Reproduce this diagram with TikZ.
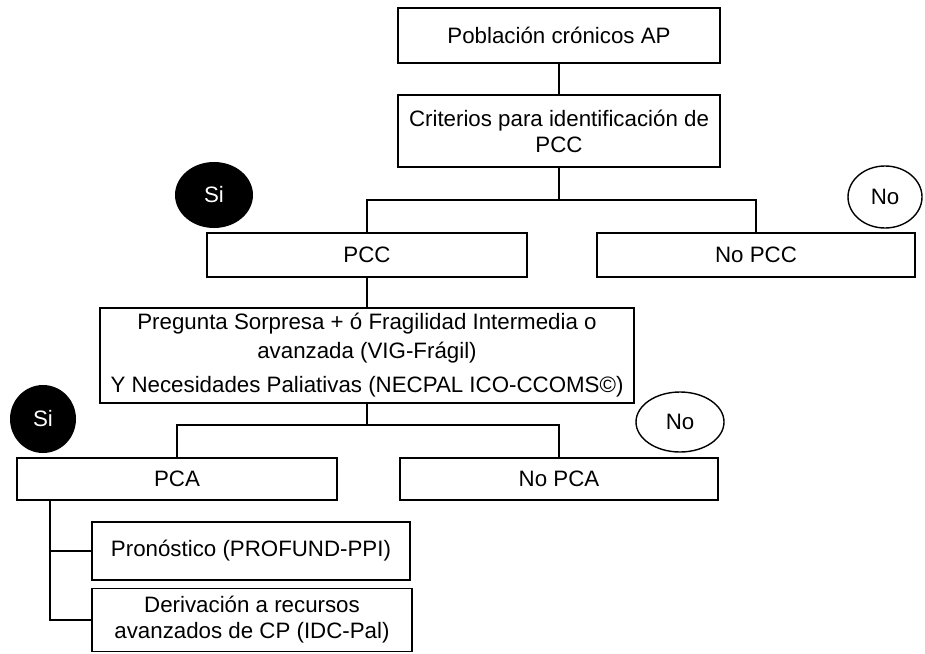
\documentclass[tikz,border=0pt]{standalone}
\usepackage{fontspec}
\setmainfont{Liberation Sans}
\usetikzlibrary{shapes.geometric}
\begin{document}
\begin{tikzpicture}[x=1pt,y=-1pt,
  box/.style={draw=black,line width=1.8pt,rectangle,inner sep=0pt,align=center,
    font=\fontsize{22.3}{26}\selectfont},
  oval/.style={ellipse,inner sep=0pt,font=\fontsize{22.3}{26}\selectfont},
  conn/.style={line width=1.8pt}]
\useasboundingbox (0,0) rectangle (925,653);
\node[box,minimum width=322pt,minimum height=55pt] (b1) at (559,35.5) {Población crónicos AP};
\node[box,minimum width=322pt,minimum height=72pt] (b2) at (559,131) {Criterios para identificación de\\PCC};
\node[box,minimum width=320pt,minimum height=44pt] (pcc) at (367,255) {PCC};
\node[box,minimum width=318pt,minimum height=44pt] (nopcc) at (756,255) {No PCC};
\node[box,minimum width=534pt,minimum height=95pt,font=\fontsize{22.3}{29}\selectfont] (big) at (367,355.5)
  {Pregunta Sorpresa + ó Fragilidad Intermedia o\\avanzada (VIG-Frágil)\\[5pt]Y Necesidades Paliativas (NECPAL ICO-CCOMS©)};
\node[box,minimum width=320pt,minimum height=42pt] (pca) at (177,479) {PCA};
\node[box,minimum width=318pt,minimum height=42pt] (nopca) at (559,479) {No PCA};
\node[box,minimum width=318pt,minimum height=58pt] (pron) at (251,551) {Pronóstico (PROFUND-PPI)};
\node[box,minimum width=320pt,minimum height=63pt] (deriv) at (252,620) {Derivación a recursos\\avanzados de CP (IDC-Pal)};
\node[oval,fill=black,text=white,minimum width=78pt,minimum height=66pt] (si1) at (214,195) {Si};
\node[oval,draw=black,line width=1.4pt,minimum width=74pt,minimum height=62pt] (no1) at (885,197) {No};
\node[oval,fill=black,text=white,minimum width=66pt,minimum height=68pt] (si2) at (43,419) {Si};
\node[oval,draw=black,line width=1.4pt,minimum width=88pt,minimum height=60pt] (no2) at (680,422) {No};
\coordinate (j1) at (559,200);
\coordinate (j2) at (367,425);
\coordinate (p0) at (50,500);
\draw[conn] (b1) -- (b2);
\draw[conn] (b2) -- (j1) -| (pcc);
\draw[conn] (j1) -| (nopcc);
\draw[conn] (pcc) -- (big);
\draw[conn] (big) -- (j2) -| (pca);
\draw[conn] (j2) -| (nopca);
\draw[conn] (p0) |- (pron.west);
\draw[conn] (p0) |- (deriv.west);
\end{tikzpicture}
\end{document}
